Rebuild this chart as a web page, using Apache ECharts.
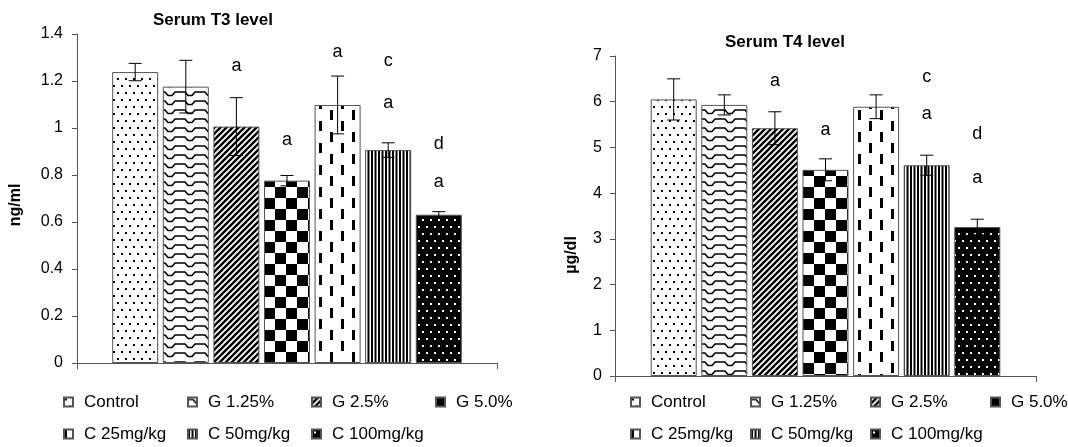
<!DOCTYPE html>
<html><head><meta charset="utf-8">
<script src="https://cdn.jsdelivr.net/npm/echarts@6/dist/echarts.min.js"></script>
<style>html,body{margin:0;padding:0;background:#fff}#c{width:1068px;height:447px}</style>
</head><body><div id="c"></div>
<script>
// ---- data ----
const groups = ['Control', 'G 1.25%', 'G 2.5%', 'G 5.0%', 'C 25mg/kg', 'C 50mg/kg', 'C 100mg/kg'];
const t3Mean = [1.238, 1.176, 1.006, 0.776, 1.098, 0.906, 0.631];
const t3Err  = [0.037, 0.112, 0.123, 0.022, 0.123, 0.031, 0.013];
const t4Mean = [6.05, 5.93, 5.42, 4.51, 5.89, 4.61, 3.26];
const t4Err  = [0.45, 0.22, 0.36, 0.24, 0.26, 0.22, 0.17];
const t3LowLetter  = ['', '', 'a', 'a', 'a', 'a', 'a'];
const t3LowLetterY = [null, null, 1.264, 0.949, 1.325, 1.106, 0.770];
const t3TopLetter  = ['', '', '', '', '', 'c', 'd'];
const t3TopLetterY = [null, null, null, null, null, 1.285, 0.932];
const t4LowLetter  = ['', '', 'a', 'a', '', 'a', 'a'];
const t4LowLetterY = [null, null, 6.45, 5.38, null, 5.73, 4.34];
const t4TopLetter  = ['', '', '', '', '', 'c', 'd'];
const t4TopLetterY = [null, null, null, null, null, 6.53, 5.29];
const t3Axis = {min: 0, max: 1.4, interval: 0.2};
const t4Axis = {min: 0, max: 7, interval: 1};

// ---- styles ----
const FONT = '"Liberation Sans", Arial, sans-serif';
const BAR_W = 46, GAP = 0.10;
function mk(w, h, draw, bg) {
  const c = document.createElement('canvas'); c.width = w; c.height = h;
  const g = c.getContext('2d');
  g.fillStyle = bg || '#fff'; g.fillRect(0, 0, w, h);
  g.fillStyle = '#000'; g.strokeStyle = '#000';
  draw(g);
  return {image: c, repeat: 'repeat'};
}
const patterns = [
  mk(8, 14, g => { g.fillRect(1, 1, 2, 2); g.fillRect(5, 8, 2, 2); }),
  mk(20, 9, g => { g.lineWidth = 1.6; g.beginPath(); g.moveTo(0, 2); g.lineTo(5, 2); g.lineTo(8, 5.5); g.lineTo(12, 5.5); g.lineTo(15, 2); g.lineTo(20, 2); g.stroke(); }),
  mk(6, 6, g => { g.lineWidth = 2.4; g.beginPath(); g.moveTo(-1, 7); g.lineTo(7, -1); g.moveTo(-4, 4); g.lineTo(4, -4); g.moveTo(2, 10); g.lineTo(10, 2); g.stroke(); }),
  mk(22, 22, g => { g.fillRect(0, 0, 11, 11); g.fillRect(11, 11, 11, 11); }),
  mk(22, 22, g => { g.fillRect(0, 0, 3, 10); g.fillRect(11, 11, 3, 10); }),
  mk(7, 2, g => { g.fillRect(0, 0, 2, 2); g.fillRect(3.5, 0, 2, 2); }),
  mk(8, 14, g => { g.fillStyle = '#fff'; g.fillRect(2, 2, 2, 2); g.fillRect(6, 9, 2, 2); }, '#000')
];

function barSeries(idx, means) {
  return groups.map((name, i) => ({
    type: 'bar', name, xAxisIndex: idx, yAxisIndex: idx,
    data: [means[i]], barWidth: BAR_W, barGap: (GAP * 100) + '%',
    itemStyle: {color: patterns[i], borderColor: '#555', borderWidth: 1},
    silent: true
  }));
}
function errSeries(idx, means, errs, lowL, lowY, topL, topY) {
  return {
    type: 'custom', xAxisIndex: idx, yAxisIndex: idx, z: 10, silent: true,
    data: means.map((m, i) => [0, i, m, errs[i]]),
    encode: {x: 0, y: 2},
    renderItem: (params, api) => {
      const i = api.value(1), m = api.value(2), e = api.value(3);
      const c = api.coord([0, m]);
      const x = c[0] + (i - 3) * BAR_W * (1 + GAP);
      const yt = api.coord([0, m + e])[1], yb = api.coord([0, m - e])[1];
      const ls = {stroke: '#000', lineWidth: 1};
      const ch = [
        {type: 'line', shape: {x1: x, y1: yt, x2: x, y2: yb}, style: ls},
        {type: 'line', shape: {x1: x - 6.5, y1: yt, x2: x + 6.5, y2: yt}, style: ls},
        {type: 'line', shape: {x1: x - 6.5, y1: yb, x2: x + 6.5, y2: yb}, style: ls}
      ];
      const txt = (s, v) => ({type: 'text', x: x, y: api.coord([0, v])[1],
        style: {text: s, fill: '#000', font: '18px ' + FONT, align: 'center', verticalAlign: 'middle', textAlign: 'center', textVerticalAlign: 'middle'}});
      if (lowL[i]) ch.push(txt(lowL[i], lowY[i]));
      if (topL[i]) ch.push(txt(topL[i], topY[i]));
      return {type: 'group', children: ch};
    }
  };
}
const axisLineStyle = {lineStyle: {color: '#555', width: 1}};
function xAx(idx) {
  return {type: 'category', gridIndex: idx, data: [''], axisLabel: {show: false},
    axisLine: axisLineStyle, axisTick: {show: true, length: 6, lineStyle: {color: '#555'}}};
}
function yAx(idx, ax, margin) {
  return {type: 'value', gridIndex: idx, min: ax.min, max: ax.max, interval: ax.interval,
    axisLine: {show: true, lineStyle: {color: '#555'}}, axisTick: {show: true, length: 5, lineStyle: {color: '#555'}},
    splitLine: {show: false},
    axisLabel: {color: '#000', fontSize: 16, fontFamily: FONT, margin: margin}};
}
function legendRow(left, top, names, w) {
  return {left, top, width: 520, data: names, icon: 'rect', itemWidth: 9, itemHeight: 9, itemGap: 10,
    selectedMode: false, padding: 0,
    textStyle: {color: '#000', fontSize: 17, fontFamily: FONT, width: w, lineHeight: 18, padding: [0, 0, 0, 6]}};
}
const chart = echarts.init(document.getElementById('c'), null, {renderer: 'canvas'});
chart.setOption({
  animation: false,
  backgroundColor: '#fff',
  grid: [
    {left: 77, top: 34, width: 420, height: 329},
    {left: 615, top: 56, width: 421, height: 320}
  ],
  xAxis: [xAx(0), xAx(1)],
  yAxis: [yAx(0, t3Axis, 14), yAx(1, t4Axis, 13)],
  legend: [
    legendRow(63, 393, groups.slice(0, 4), 93),
    legendRow(63, 425, groups.slice(4), 93),
    legendRow(630, 393, groups.slice(0, 4), 89),
    legendRow(630, 425, groups.slice(4), 89)
  ],
  graphic: [
    {type: 'text', x: 213, y: 20, style: {text: 'Serum T3 level', font: 'bold 17px ' + FONT, fill: '#000', align: 'center', verticalAlign: 'middle'}},
    {type: 'text', x: 785, y: 42, style: {text: 'Serum T4 level', font: 'bold 17px ' + FONT, fill: '#000', align: 'center', verticalAlign: 'middle'}},
    {type: 'text', x: 16, y: 205, rotation: Math.PI / 2, style: {text: 'ng/ml', font: 'bold 16px ' + FONT, fill: '#000', align: 'center', verticalAlign: 'middle'}},
    {type: 'text', x: 572, y: 255, rotation: Math.PI / 2, style: {text: 'µg/dl', font: 'bold 16px ' + FONT, fill: '#000', align: 'center', verticalAlign: 'middle'}}
  ],
  series: [
    ...barSeries(0, t3Mean),
    ...barSeries(1, t4Mean),
    errSeries(0, t3Mean, t3Err, t3LowLetter, t3LowLetterY, t3TopLetter, t3TopLetterY),
    errSeries(1, t4Mean, t4Err, t4LowLetter, t4LowLetterY, t4TopLetter, t4TopLetterY)
  ]
});
</script></body></html>
